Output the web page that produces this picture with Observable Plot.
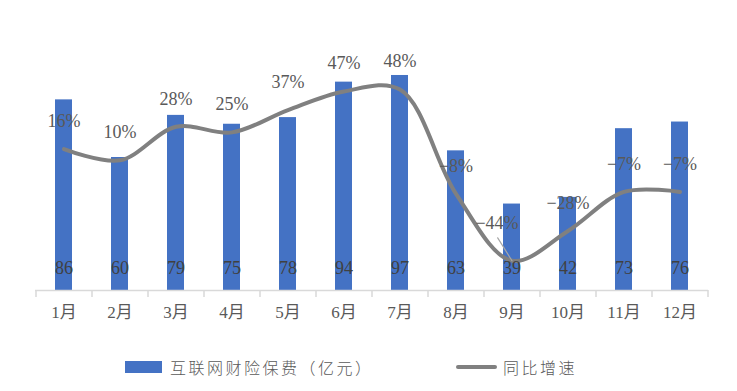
<!DOCTYPE html>
<html><head><meta charset="utf-8">
<script src="https://cdn.jsdelivr.net/npm/d3@7"></script>
<script src="https://cdn.jsdelivr.net/npm/@observablehq/plot@0.6"></script>
<style>
body{margin:0;background:#fff;width:737px;height:391px;overflow:hidden;position:relative;font-family:"Liberation Serif","Noto Sans CJK SC",serif;}
#legend{position:absolute;top:357px;left:0;width:737px;height:20px;color:#595959;font-size:16px;}
.item{position:absolute;top:0;display:flex;align-items:center;height:20px;letter-spacing:2.5px;font-family:"Noto Sans CJK SC",sans-serif;font-weight:300;}
</style></head>
<body>
<div id="chart"></div>
<div id="legend">
  <div class="item" style="left:125px"><span style="display:inline-block;width:37px;height:12px;background:#4472C4;margin-right:8px"></span>互联网财险保费（亿元）</div>
  <div class="item" style="left:456px"><span style="display:inline-block;width:41px;height:4px;border-radius:2px;background:#808080;margin-right:6px"></span>同比增速</div>
</div>
<script>
const months = ["1月","2月","3月","4月","5月","6月","7月","8月","9月","10月","11月","12月"];
const premium = [86,60,79,75,78,94,97,63,39,42,73,76];
const growth = [16,10,28,25,37,47,48,-8,-44,-28,-7,-7];

const data = months.map((m,i)=>({month:m, premium:premium[i], growth:growth[i]}));
// secondary axis for growth mapped onto primary units
const sec = d3.scaleLinear().domain([-60, 83]).range([0, 120]);
const fmt = g => (g < 0 ? "\u2212" + Math.abs(g) : g) + "%";
const font = "Liberation Serif, Noto Sans CJK SC, serif";

const chart = Plot.plot({
  width: 737, height: 340,
  marginLeft: 35, marginRight: 29, marginTop: 24, marginBottom: 50,
  style: {fontFamily: font, background: "#fff"},
  x: {type: "band", domain: months, paddingInner: 0.7, paddingOuter: 0.35, label: null},
  y: {domain: [0, 120], axis: null},
  marks: [
    Plot.barY(data, {x: "month", y: "premium", fill: "#4472C4"}),
    Plot.ruleY([0], {stroke: "#d9d9d9", strokeWidth: 1.5}),
    Plot.ruleX(data, {x: "month", y1: 0, y2: 0, dx: -28, insetBottom: -7, stroke: "#d9d9d9", strokeWidth: 1.5}),
    Plot.ruleX(data.slice(-1), {x: "month", y1: 0, y2: 0, dx: 28, insetBottom: -7, stroke: "#d9d9d9", strokeWidth: 1.5}),
    Plot.axisX({tickSize: 0, tickPadding: 15, fontSize: 17, fill: "#595959", label: null, fontFamily: font}),
    Plot.line(data, {x: "month", y: d => sec(d.growth), curve: "catmull-rom", stroke: "#808080", strokeWidth: 4, strokeLinecap: "round"}),
    Plot.vector(data.filter(d => d.month === "9月"), {x: "month", y: d => sec(d.growth), length: 27, rotate: -32, anchor: "start", stroke: "#a6a6a6", strokeWidth: 1.2,
      shape: {draw(ctx, l) { ctx.moveTo(0, 0); ctx.lineTo(0, -l); }}}),
    Plot.text(data, {x: "month", y: 0, text: d => String(d.premium), dy: -22, fontSize: 18, fill: "#404040", fontFamily: font}),
    Plot.text(data.filter(d => d.month !== "9月"), {x: "month", y: d => sec(d.growth), text: d => fmt(d.growth), dy: -28, fontSize: 18, fill: "#595959", fontFamily: font}),
    Plot.text(data.filter(d => d.month === "9月"), {x: "month", y: d => sec(d.growth), text: d => fmt(d.growth), dy: -38, dx: -15, fontSize: 18, fill: "#595959", fontFamily: font})
  ]
});
document.getElementById("chart").appendChild(chart);
</script>
</body></html>
